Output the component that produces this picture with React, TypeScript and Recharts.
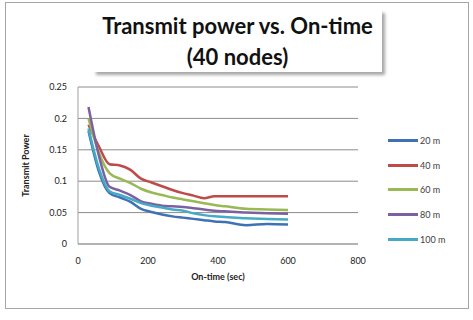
import React from 'react';
import { LineChart, Line, XAxis, YAxis, CartesianGrid } from 'recharts';

const onTime = [30, 60, 90, 120, 150, 180, 210, 240, 270, 300, 330, 360, 390, 420, 480, 540, 600];
const p20 = [0.18, 0.115, 0.081, 0.074, 0.067, 0.056, 0.051, 0.047, 0.044, 0.042, 0.04, 0.038, 0.036, 0.035, 0.03, 0.032, 0.031];
const p40 = [0.19, 0.155, 0.127, 0.125, 0.118, 0.104, 0.098, 0.092, 0.086, 0.081, 0.077, 0.073, 0.076, 0.076, 0.076, 0.076, 0.076];
const p60 = [0.2, 0.145, 0.113, 0.104, 0.097, 0.088, 0.082, 0.078, 0.074, 0.071, 0.068, 0.065, 0.062, 0.06, 0.056, 0.055, 0.054];
const p80 = [0.218, 0.14, 0.091, 0.085, 0.078, 0.068, 0.064, 0.061, 0.06, 0.059, 0.057, 0.055, 0.053, 0.052, 0.05, 0.049, 0.048];
const p100 = [0.184, 0.12, 0.084, 0.078, 0.072, 0.065, 0.061, 0.058, 0.055, 0.053, 0.049, 0.046, 0.044, 0.043, 0.041, 0.04, 0.039];
const xTicks = [0, 200, 400, 600, 800];
const yTicks = [0, 0.05, 0.1, 0.15, 0.2, 0.25];

const data = onTime.map((t, i) => ({
    t,
    '20 m': p20[i],
    '40 m': p40[i],
    '60 m': p60[i],
    '80 m': p80[i],
    '100 m': p100[i],
}));

const series = [
    { key: '20 m', color: '#3f72b4' },
    { key: '40 m', color: '#be4b48' },
    { key: '60 m', color: '#98b954' },
    { key: '80 m', color: '#7d60a0' },
    { key: '100 m', color: '#46aac5' },
];

const font = 'Lato, "Open Sans", sans-serif';

const App: React.FC = () => {
    return (
        <div style={{ position: 'absolute', left: 0, top: 0, width: 473, height: 320, background: '#fff', fontFamily: font }}>
            <div style={{ position: 'absolute', left: 5, top: 2, width: 462, height: 305, border: '1px solid #a6a6a6' }} />
            <div style={{ position: 'absolute', left: 0, top: 0 }}>
                <LineChart width={473} height={320} data={data} margin={{ top: 87, right: 115, bottom: 46, left: 0 }}>
                    <CartesianGrid horizontal vertical={false} stroke="#8c8c8c" />
                    <XAxis
                        dataKey="t"
                        type="number"
                        domain={[0, 800]}
                        ticks={xTicks}
                        height={30}
                        tickLine={false}
                        tickMargin={8}
                        stroke="#a0a0a0"
                        tick={{ fontSize: 9, fill: '#222', fontFamily: font }}
                        label={{ value: 'On-time (sec)', position: 'insideBottom', offset: -6, style: { fontSize: 9, fontWeight: 700, fill: '#222', fontFamily: font } }}
                    />
                    <YAxis
                        type="number"
                        domain={[0, 0.25]}
                        ticks={yTicks}
                        width={78}
                        tickLine={false}
                        tickMargin={5}
                        stroke="#a0a0a0"
                        tick={{ fontSize: 9, fill: '#222', fontFamily: font }}
                        label={{ value: 'Transmit Power', angle: -90, position: 'insideLeft', offset: 26, style: { textAnchor: 'middle', fontSize: 9, fontWeight: 700, fill: '#222', fontFamily: font } }}
                    />
                    {series.map(s => (
                        <Line
                            key={s.key}
                            dataKey={s.key}
                            type="monotone"
                            stroke={s.color}
                            strokeWidth={2.5}
                            dot={false}
                            isAnimationActive={false}
                        />
                    ))}
                </LineChart>
            </div>
            {/* legend */}
            <div style={{ position: 'absolute', left: 388, top: 128, fontSize: 9, color: '#404040' }}>
                {series.map(s => (
                    <div key={s.key} style={{ display: 'flex', alignItems: 'center', height: 24.7 }}>
                        <div style={{ width: 30, height: 3, background: s.color, marginRight: 2 }} />
                        <span>{s.key}</span>
                    </div>
                ))}
            </div>
            <div style={{
                position: 'absolute', left: 93, top: 10, width: 289, height: 62,
                background: '#fff', boxShadow: '3px 3px 3px rgba(0,0,0,0.35)',
                textAlign: 'center', fontWeight: 700, fontSize: 22, lineHeight: '31px', color: '#111',
            }}>
                Transmit power vs. On-time<br />(40 nodes)
            </div>
        </div>
    );
};

export default App;
